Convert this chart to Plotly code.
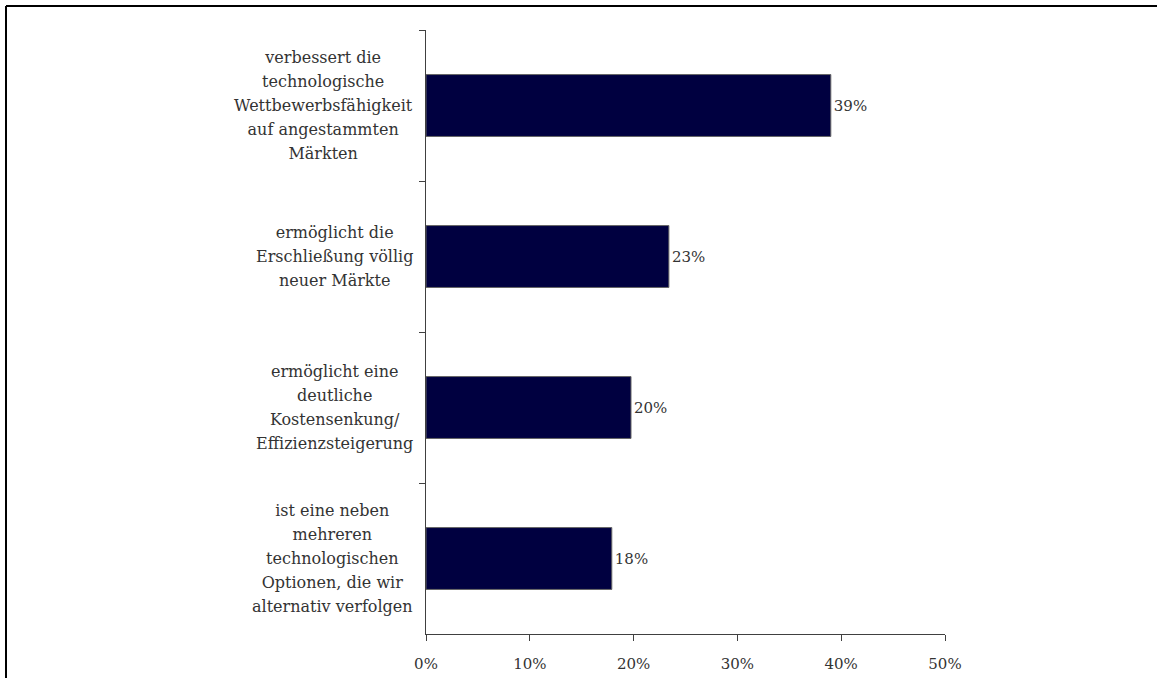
import plotly.graph_objects as go

categories = [
    "verbessert die<br>technologische<br>Wettbewerbsfähigkeit<br>auf angestammten<br>Märkten",
    "ermöglicht die<br>Erschließung völlig<br>neuer Märkte",
    "ermöglicht eine<br>deutliche<br>Kostensenkung/<br>Effizienzsteigerung",
    "ist eine neben<br>mehreren<br>technologischen<br>Optionen, die wir<br>alternativ verfolgen",
]
values = [39.0, 23.4, 19.75, 17.9]
x_ticks = [0, 10, 20, 30, 40, 50]
x_tick_labels = ["0%", "10%", "20%", "30%", "40%", "50%"]

W, H = 1157, 678
L, R, T, B = 426, 212, 30, 44
FONT = "DejaVu Serif"
FS = 16
TXT = "#333333"

fig = go.Figure()
fig.add_trace(go.Bar(
    y=categories, x=values, orientation="h",
    marker=dict(color="#000040", line=dict(color="#666666", width=1)),
    text=[f"{v:.0f}%" for v in values], textposition="outside",
    textfont=dict(family=FONT, size=15, color=TXT),
    cliponaxis=False, hoverinfo="skip",
))

for c in categories:
    lines = c.split("<br>")
    txt = "<br>".join(f'<span style="font-size:{FS}px">{ln}</span>' for ln in lines)
    fig.add_annotation(
        x=0, xref="paper", y=c, yref="y", xanchor="right", yanchor="middle",
        xshift=-11, text=txt, showarrow=False, align="center",
        font=dict(family=FONT, size=18.5, color=TXT),
    )

pw = W - L - R
ph = H - T - B
def px(xp):
    return (xp - L) / pw
def py(yp):
    return (H - B - yp) / ph

fig.add_shape(type="line", xref="paper", yref="paper",
              x0=px(6), x1=px(W + 5), y0=py(6), y1=py(6),
              line=dict(color="black", width=2))
fig.add_shape(type="line", xref="paper", yref="paper",
              x0=px(6), x1=px(6), y0=py(6), y1=py(H + 5),
              line=dict(color="black", width=2))

fig.update_layout(
    width=W, height=H, autosize=False,
    margin=dict(l=L, r=R, t=T, b=B, autoexpand=False),
    plot_bgcolor="white", paper_bgcolor="white",
    bargap=0.59, showlegend=False,
    font=dict(family=FONT, size=FS, color=TXT),
    xaxis=dict(range=[0, 50], tickmode="array", tickvals=x_ticks,
               ticktext=x_tick_labels, automargin=False,
               showgrid=False, zeroline=False, showline=True,
               linecolor="#404040", linewidth=1, ticks="outside",
               ticklen=6, tickcolor="#404040", ticklabelstandoff=10,
               tickfont=dict(family=FONT, size=15, color=TXT)),
    yaxis=dict(autorange="reversed", type="category", showgrid=False,
               automargin=False,
               zeroline=False, showline=True, linecolor="#404040",
               linewidth=1, ticks="outside", ticklen=6, tickcolor="#404040",
               tickson="boundaries", showticklabels=False),
)

fig.write_html("out.html", config={"displayModeBar": False},
               post_script="document.body.style.margin='0';document.body.style.overflow='hidden';")
